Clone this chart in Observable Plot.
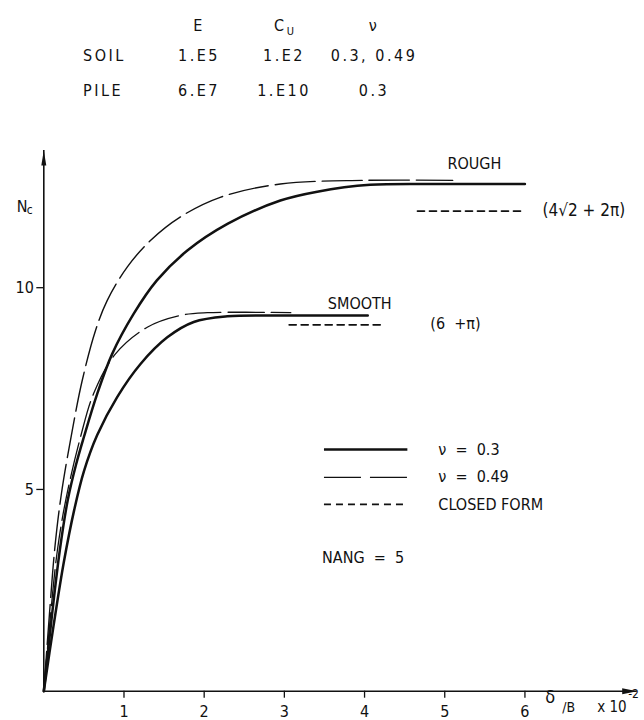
<!DOCTYPE html>
<html><head><meta charset="utf-8">
<script src="https://cdn.jsdelivr.net/npm/d3@7"></script>
<script src="https://cdn.jsdelivr.net/npm/@observablehq/plot@0.6"></script>
<style>
body{margin:0;background:#fff;color:#111;font-family:"DejaVu Sans Condensed","DejaVu Sans",sans-serif;}
#head{position:relative;width:644px;height:110px;font-size:16px;letter-spacing:2.5px;}
#head span{position:absolute;transform:translate(-50%,-50%);white-space:nowrap;}
#head span.l{transform:translate(0,-50%);}
#head sub{font-size:11px;vertical-align:-4px;line-height:0;letter-spacing:0;}
</style></head><body>
<div id="head"></div>
<div id="chart"></div>
<script>
// ---- table of properties ----
const tableHeaders = ["E", "C_U", "ν"];
const rowNames = ["SOIL", "PILE"];
const soilValues = ["1.E5", "1.E2", "0.3, 0.49"];
const pileValues = ["6.E7", "1.E10", "0.3"];

// ---- axis ticks ----
const xTicks = [1, 2, 3, 4, 5, 6];
const yTicks = [5, 10];

// ---- curves: [δ/B ×10^-2, Nc] ----
const roughNu03 = [[0,0],[0.1,1.85],[0.2,3.5],[0.3,4.75],[0.4,5.6],[0.5,6.3],[0.666,7.37],[0.853,8.36],[1.12,9.35],[1.41,10.18],[1.79,10.92],[2.29,11.58],[2.95,12.16],[3.41,12.38],[4.07,12.55],[5.0,12.57],[6.0,12.57]];
const roughNu049 = [[0,0],[0.07,1.9],[0.14,3.6],[0.22,4.9],[0.354,6.45],[0.479,7.7],[0.645,8.94],[0.79,9.68],[1.04,10.51],[1.33,11.17],[1.7,11.75],[2.2,12.24],[2.95,12.57],[4.0,12.66],[5.1,12.66]];
const smoothNu03 = [[0,0],[0.12,1.6],[0.25,3.2],[0.38,4.5],[0.5,5.45],[0.666,6.35],[0.915,7.29],[1.206,8.11],[1.54,8.77],[1.87,9.15],[2.29,9.29],[2.95,9.31],[4.04,9.31]];
const smoothNu049 = [[0,0],[0.08,1.8],[0.17,3.5],[0.28,4.8],[0.458,6.3],[0.62,7.37],[0.894,8.36],[1.29,9.02],[1.7,9.31],[2.04,9.38],[3.08,9.38]];
const closedRough = [[4.66,11.9],[6.0,11.9]];
const closedSmooth = [[3.06,9.08],[4.23,9.08]];

const legendLabels = ["ν  =  0.3", "ν  =  0.49", "CLOSED FORM"];
const legendLevels = [5.99, 5.30, 4.63];

// ---- header table (HTML, above the SVG) ----
const head = document.getElementById("head");
const colX = [199, 284, 374];
const fmt = s => s.replace(/_(\w+)/, "<sub>$1</sub>");
tableHeaders.forEach((t, i) => head.insertAdjacentHTML("beforeend", `<span style="left:${colX[i]}px;top:25px">${fmt(t)}</span>`));
[soilValues, pileValues].forEach((vals, r) => {
  const top = r === 0 ? 55 : 90;
  head.insertAdjacentHTML("beforeend", `<span class="l" style="left:83px;top:${top}px">${rowNames[r]}</span>`);
  vals.forEach((v, i) => head.insertAdjacentHTML("beforeend", `<span style="left:${colX[i]}px;top:${top}px">${v}</span>`));
});

const X = d => d[0], Y = d => d[1];
const arrowUp = {draw(c) { c.moveTo(0, 0); c.lineTo(-2.5, 15); c.lineTo(2.5, 15); c.closePath(); }};
const arrowRight = {draw(c) { c.moveTo(0, 0); c.lineTo(-15, -3); c.lineTo(-15, 3); c.closePath(); }};
const ink = "#111";
const font = "DejaVu Sans Condensed";
const crv = "catmull-rom";

const chart = Plot.plot({
  width: 644, height: 610,
  marginLeft: 43.3, marginRight: 7.3, marginTop: 40, marginBottom: 29.3,
  x: {domain: [0, 7.4]},
  y: {domain: [0, 13.4]},
  style: {fontFamily: font, fontSize: "16px", color: ink, background: "#fff", overflow: "visible"},
  marks: [
    Plot.axisX({ticks: xTicks, tickSize: 7, tickPadding: 7, fontSize: 16, label: null, strokeWidth: 1.3}),
    Plot.axisY({ticks: yTicks, tickSize: 7, tickPadding: 3, fontSize: 16, label: null, strokeWidth: 1.3}),
    Plot.ruleY([0], {stroke: ink, strokeWidth: 1.6}),
    Plot.ruleX([0], {stroke: ink, strokeWidth: 1.6}),
    Plot.dot([0], {frameAnchor: "top-left", symbol: arrowUp, fill: ink, stroke: "none"}),
    Plot.dot([0], {frameAnchor: "bottom-right", symbol: arrowRight, fill: ink, stroke: "none"}),
    // curves
    Plot.line(roughNu049, {x: X, y: Y, curve: crv, stroke: ink, strokeWidth: 1.4, strokeDasharray: "40,7"}),
    Plot.line(smoothNu049, {x: X, y: Y, curve: crv, stroke: ink, strokeWidth: 1.3, strokeDasharray: "36,7"}),
    Plot.line(roughNu03, {x: X, y: Y, curve: crv, stroke: ink, strokeWidth: 2.5}),
    Plot.line(smoothNu03, {x: X, y: Y, curve: crv, stroke: ink, strokeWidth: 2.5}),
    Plot.line(closedRough, {x: X, y: Y, stroke: ink, strokeWidth: 1.7, strokeDasharray: "7,5"}),
    Plot.line(closedSmooth, {x: X, y: Y, stroke: ink, strokeWidth: 1.7, strokeDasharray: "7,5"}),
    // curve labels
    Plot.text(["ROUGH"], {x: 5.37, y: 13.07, fill: ink, fontSize: 16, letterSpacing: 2}),
    Plot.text(["SMOOTH"], {x: 3.94, y: 9.61, fill: ink, fontSize: 16, letterSpacing: 2.5}),
    Plot.text(["(4√2 + 2π)"], {x: 6.22, y: 11.91, textAnchor: "start", fill: ink, fontSize: 17, letterSpacing: 2}),
    Plot.text(["(6  +π)"], {x: 4.82, y: 9.11, textAnchor: "start", fill: ink, fontSize: 16, letterSpacing: 2}),
    // legend
    Plot.ruleY([legendLevels[0]], {x1: 3.5, x2: 4.54, stroke: ink, strokeWidth: 2.5}),
    Plot.ruleY([legendLevels[1]], {x1: 3.5, x2: 4.54, stroke: ink, strokeWidth: 1.4, strokeDasharray: "37,9"}),
    Plot.ruleY([legendLevels[2]], {x1: 3.5, x2: 4.54, stroke: ink, strokeWidth: 1.7, strokeDasharray: "7,5"}),
    Plot.text(legendLabels, {x: 4.92, y: (d, i) => legendLevels[i], textAnchor: "start", fill: ink, fontSize: 16, letterSpacing: 1.5}),
    Plot.text(["NANG  =  5"], {x: 3.47, y: 3.31, textAnchor: "start", fill: ink, fontSize: 16, letterSpacing: 2}),
    // axis titles
    Plot.text(["N"], {frameAnchor: "top-left", dx: -27, dy: 50, fill: ink, fontSize: 16}),
    Plot.text(["c"], {frameAnchor: "top-left", dx: -17, dy: 55, fill: ink, fontSize: 12}),
    Plot.text(["δ"], {frameAnchor: "bottom-right", dx: -82, dy: 12, fill: ink, fontSize: 18}),
    Plot.text(["/B"], {frameAnchor: "bottom-right", dx: -75, dy: 21, textAnchor: "start", fill: ink, fontSize: 14}),
    Plot.text(["x 10"], {frameAnchor: "bottom-right", dx: -40, dy: 21, textAnchor: "start", fill: ink, fontSize: 15}),
    Plot.text(["-2"], {frameAnchor: "bottom-right", dx: -9, dy: 7, textAnchor: "start", fill: ink, fontSize: 12})
  ]
});
document.getElementById("chart").append(chart);
</script>
</body></html>
